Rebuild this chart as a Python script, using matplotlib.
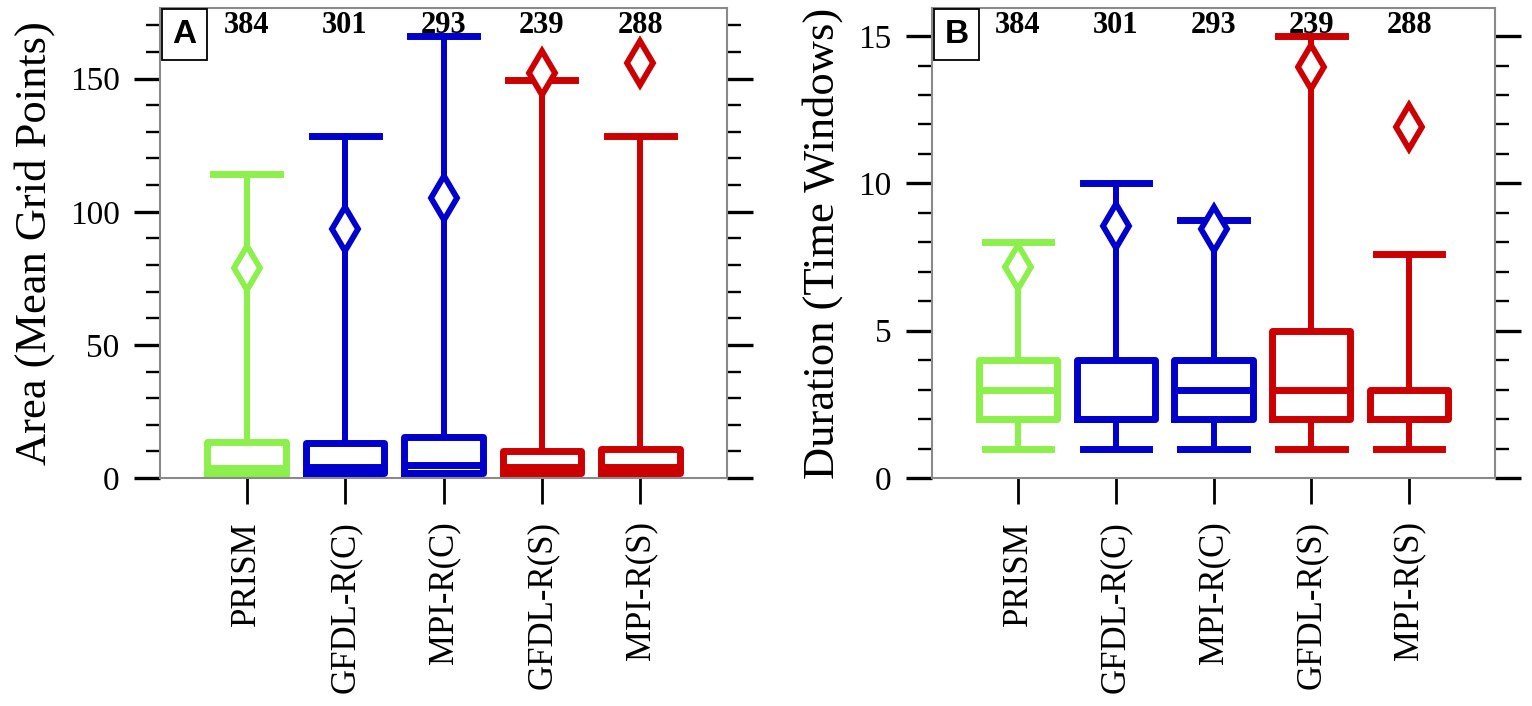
import matplotlib

matplotlib.use("Agg")
import matplotlib.pyplot as plt
from matplotlib.ticker import MultipleLocator
import matplotlib.transforms as mtransforms

# box-plot summaries
models = ["PRISM", "GFDL-R(C)", "MPI-R(C)", "GFDL-R(S)", "MPI-R(S)"]
counts = [384, 301, 293, 239, 288]
colors = ["#8cf04c", "#0000cc", "#0000cc", "#cc0000", "#cc0000"]

area_low = [1.2, 1.8, 1.8, 1.8, 1.8]
area_q1 = [1.2, 1.8, 1.8, 1.8, 1.8]
area_med = [3.8, 4.3, 5.0, 4.3, 4.3]
area_q3 = [13.5, 13, 15.5, 10, 11]
area_high = [114, 128.5, 166, 149.5, 128.5]
area_mean = [79, 93.5, 105, 152, 156]

dur_low = [1, 1, 1, 1, 1]
dur_q1 = [2, 2, 2, 2, 2]
dur_med = [3, 2, 3, 3, 2]
dur_q3 = [4, 4, 4, 5, 3]
dur_high = [8, 10, 8.75, 15, 7.6]
dur_mean = [7.15, 8.55, 8.45, 13.95, 11.9]

SERIF = "Liberation Serif"


def make_stats(low, q1, med, q3, high):
    return [
        dict(whislo=a, q1=b, med=c, q3=d, whishi=e, fliers=[])
        for a, b, c, d, e in zip(low, q1, med, q3, high)
    ]


def draw_panel(ax, stats, means, ylim, major, minor, ylabel, letter):
    pos = list(range(1, len(models) + 1))
    for i, (st, c) in enumerate(zip(stats, colors)):
        ax.bxp(
            [st],
            positions=[pos[i]],
            widths=0.8,
            capwidths=0.68,
            showfliers=False,
            boxprops=dict(color=c, linewidth=5.0),
            whiskerprops=dict(color=c, linewidth=4.3),
            capprops=dict(color=c, linewidth=5.0),
            medianprops=dict(color=c, linewidth=5.0),
        )
        ax.plot(
            pos[i], means[i], marker="d", ms=22, mfc="white", mec=c, mew=4.2,
            zorder=5,
        )

    ax.set_xlim(0.12, 5.88)
    ax.set_ylim(*ylim)
    ax.set_xticks(pos)
    ax.set_xticklabels(models, rotation=90, family=SERIF, fontsize=25)
    ax.yaxis.set_major_locator(MultipleLocator(major))
    ax.yaxis.set_minor_locator(MultipleLocator(minor))
    for lab in ax.get_yticklabels():
        lab.set_family(SERIF)
        lab.set_fontsize(24)
    ax.tick_params(axis="y", which="major", direction="out", length=19,
                   width=2.4, right=True, pad=10)
    ax.tick_params(axis="y", which="minor", direction="out", length=10,
                   width=1.7, right=True)
    ax.tick_params(axis="x", direction="out", length=19, width=2.0, pad=12)
    for sp in ax.spines.values():
        sp.set_color("#8a8a8a")
        sp.set_linewidth(1.5)
    ax.set_ylabel(ylabel, family=SERIF, fontsize=32, labelpad=11)

    trans = mtransforms.blended_transform_factory(ax.transData, ax.transAxes)
    for p, n in zip(pos, counts):
        ax.text(p, 0.962, str(n), transform=trans, ha="center", va="center",
                family=SERIF, fontweight="bold", fontsize=22)

    ax.text(0.022, 0.977, letter, transform=ax.transAxes, ha="left", va="top",
            family="Liberation Sans", fontweight="bold", fontsize=24,
            bbox=dict(boxstyle="square,pad=0.3", fc="white", ec="black", lw=1.3),
            zorder=6)


fig = plt.figure(figsize=(15.32, 7.06), dpi=100)
ax_a = fig.add_axes([0.1044, 0.3229, 0.3702, 0.6657])
ax_b = fig.add_axes([0.6084, 0.3229, 0.3675, 0.6657])

draw_panel(ax_a, make_stats(area_low, area_q1, area_med, area_q3, area_high),
           area_mean, (0, 176.5), 50, 10, "Area (Mean Grid Points)", "A")
draw_panel(ax_b, make_stats(dur_low, dur_q1, dur_med, dur_q3, dur_high),
           dur_mean, (0, 15.95), 5, 1, "Duration (Time Windows)", "B")

fig.savefig("out.png", dpi=100)
